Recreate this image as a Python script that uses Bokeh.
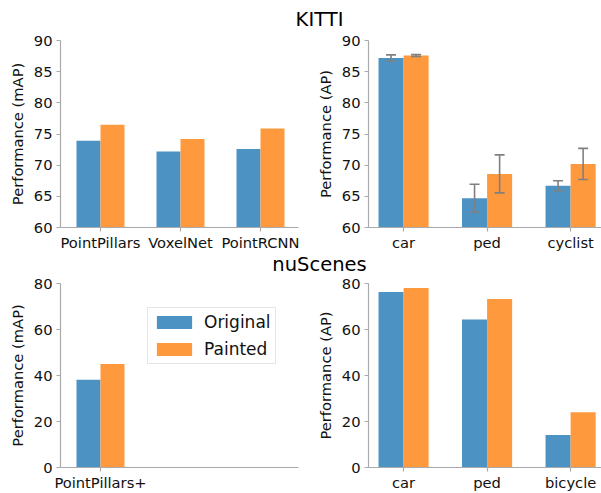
from bokeh.plotting import figure
from bokeh.layouts import column, row
from bokeh.models import (Div, Range1d, FixedTicker, Whisker, TeeHead,
                          ColumnDataSource, Legend, LegendItem)
from bokeh.transform import dodge
from bokeh.embed import file_html
from bokeh.resources import INLINE

# ---------------- data ----------------
kitti_methods = ["PointPillars", "VoxelNet", "PointRCNN"]
kitti_methods_original = [73.9, 72.2, 72.6]
kitti_methods_painted = [76.5, 74.2, 75.9]

kitti_classes = ["car", "ped", "cyclist"]
kitti_classes_original = [87.2, 64.7, 66.7]
kitti_classes_original_err = [0.5, 2.25, 0.8]
kitti_classes_painted = [87.6, 68.6, 70.2]
kitti_classes_painted_err = [0.15, 3.05, 2.5]

nus_methods = ["PointPillars+"]
nus_methods_original = [38.1]
nus_methods_painted = [45.0]

nus_classes = ["car", "ped", "bicycle"]
nus_classes_original = [76.3, 64.3, 14.1]
nus_classes_painted = [78.0, 73.3, 24.0]

top_ticks = [60, 65, 70, 75, 80, 85, 90]
bottom_ticks = [0, 20, 40, 60, 80]

# ---------------- style ----------------
BLUE = "#4c92c3"
ORANGE = "#ff993e"
SPINE = "#aaaaaa"
ERR = "#808080"
FONT = "DejaVu Sans"
BAR_W = 0.3
FS = "14.7px"


def make_panel(cats, orig, paint, ylabel, yticks, xr, width, height,
               bl, br, bt, bb, orig_err=None, paint_err=None):
    x = list(range(len(cats)))
    data = dict(x=x, orig=orig, paint=paint)
    if orig_err is not None:
        data["o_lo"] = [v - e for v, e in zip(orig, orig_err)]
        data["o_hi"] = [v + e for v, e in zip(orig, orig_err)]
        data["p_lo"] = [v - e for v, e in zip(paint, paint_err)]
        data["p_hi"] = [v + e for v, e in zip(paint, paint_err)]
    src = ColumnDataSource(data)
    p = figure(width=width, height=height, output_backend="svg",
               toolbar_location=None, tools="",
               x_range=Range1d(*xr), y_range=Range1d(yticks[0], yticks[-1]),
               min_border_left=bl, min_border_right=br,
               min_border_top=bt, min_border_bottom=bb, margin=0)
    r1 = p.vbar(x=dodge("x", -BAR_W / 2, range=p.x_range), top="orig", bottom=0,
                width=BAR_W, source=src, fill_color=BLUE, line_color=None)
    r2 = p.vbar(x=dodge("x", BAR_W / 2, range=p.x_range), top="paint", bottom=0,
                width=BAR_W, source=src, fill_color=ORANGE, line_color=None)
    if orig_err is not None:
        for base, lo, hi in ((-BAR_W / 2, "o_lo", "o_hi"), (BAR_W / 2, "p_lo", "p_hi")):
            w = Whisker(base=dodge("x", base, range=p.x_range), lower=lo, upper=hi,
                        source=src, line_color=ERR, line_width=1.6, level="overlay",
                        upper_head=TeeHead(size=10, line_color=ERR, line_width=1.6),
                        lower_head=TeeHead(size=10, line_color=ERR, line_width=1.6))
            p.add_layout(w)
    p.grid.visible = False
    p.outline_line_color = None
    p.background_fill_color = "white"
    p.border_fill_color = "white"
    p.xaxis.ticker = FixedTicker(ticks=x)
    p.xaxis.major_label_overrides = {i: c for i, c in zip(x, cats)}
    p.yaxis.ticker = FixedTicker(ticks=yticks)
    p.yaxis.axis_label = ylabel
    for ax in (p.xaxis[0], p.yaxis[0]):
        ax.axis_line_color = SPINE
        ax.axis_line_width = 1.2
        ax.major_tick_line_color = SPINE
        ax.major_tick_line_width = 1.2
        ax.major_tick_in = 0
        ax.major_tick_out = 4
        ax.minor_tick_line_color = None
        ax.major_label_text_font = FONT
        ax.major_label_text_font_size = FS
        ax.major_label_text_color = "#111111"
        ax.axis_label_text_font = FONT
        ax.axis_label_text_font_size = FS
        ax.axis_label_text_font_style = "normal"
        ax.axis_label_text_color = "#111111"
    p.xaxis.major_label_standoff = 2
    p.yaxis.major_label_standoff = 4
    p.yaxis.axis_label_standoff = 5
    return p, r1, r2


p1, _, _ = make_panel(kitti_methods, kitti_methods_original, kitti_methods_painted,
                      "Performance (mAP)", top_ticks, (-0.5, 2.475),
                      300, 223, 60, 2, 10, 26)
p2, _, _ = make_panel(kitti_classes, kitti_classes_original, kitti_classes_painted,
                      "Performance (AP)", top_ticks, (-0.42, 2.37),
                      301, 223, 68, 0, 10, 26,
                      kitti_classes_original_err, kitti_classes_painted_err)
p3, b1, b2 = make_panel(nus_methods, nus_methods_original, nus_methods_painted,
                        "Performance (mAP)", bottom_ticks, (-0.5, 2.475),
                        300, 222, 60, 2, 12, 23)
p4, _, _ = make_panel(nus_classes, nus_classes_original, nus_classes_painted,
                      "Performance (AP)", bottom_ticks, (-0.42, 2.37),
                      301, 222, 68, 0, 12, 23)

legend = Legend(items=[LegendItem(label="Original", renderers=[b1]),
                       LegendItem(label="Painted", renderers=[b2])],
                location=(87, 103), orientation="vertical",
                glyph_width=44, glyph_height=16, label_standoff=8,
                label_text_font=FONT, label_text_font_size="17px",
                label_text_color="#111111", label_height=20,
                spacing=7, padding=4, margin=0,
                border_line_color="#cccccc", border_line_width=1,
                background_fill_color="white", background_fill_alpha=1)
p3.add_layout(legend)


def title_div(txt, height, top):
    return Div(text=f'<div style="position:relative; top:{top}px; left:19px;">{txt}</div>',
               width=601, height=height, margin=0,
               styles={"font-family": FONT, "font-size": "19.5px",
                       "line-height": f"{height}px", "text-align": "center",
                       "color": "#000000", "overflow": "visible"})


d1 = title_div("KITTI", 30, 5)
d2 = title_div("nuScenes", 18, 3)

layout = column(d1, row(p1, p2, margin=0), d2, row(p3, p4, margin=0), margin=0)

open("out.html", "w").write(file_html(layout, INLINE))
